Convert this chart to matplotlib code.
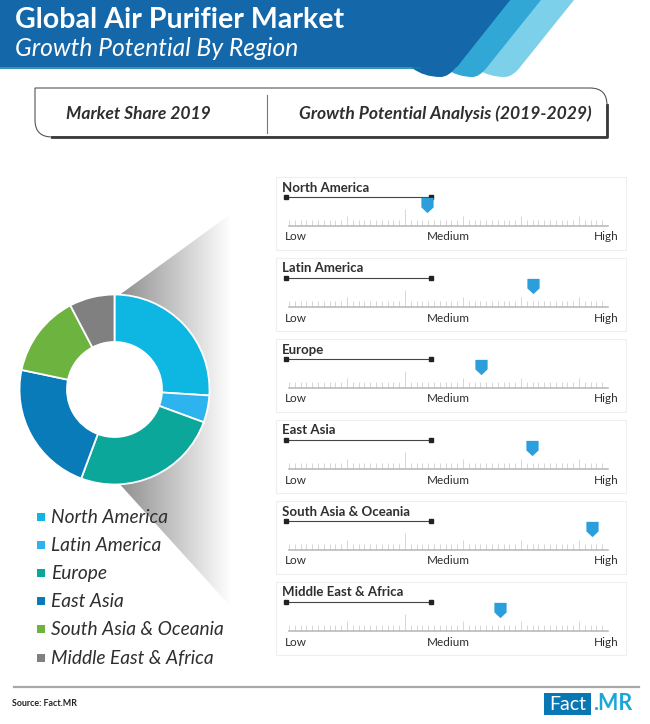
import numpy as np
import matplotlib
matplotlib.use("Agg")
import matplotlib.pyplot as plt
from matplotlib.patches import PathPatch, Rectangle, Polygon, Circle
from matplotlib.path import Path

W, H = 650, 724

regions = ["North America", "Latin America", "Europe", "East Asia",
           "South Asia & Oceania", "Middle East & Africa"]
shares = [26.0, 4.6, 25.1, 22.6, 14.0, 7.7]
growth = [43.3, 76.6, 60.2, 76.2, 95.0, 66.0]
colors = ["#0db7e1", "#2db4ee", "#0ba79a", "#0a7bb9", "#6db33f", "#808080"]
scale_labels = ["Low", "Medium", "High"]

plt.rcParams["font.family"] = ["Lato", "DejaVu Sans"]
TXT = "#2f2f2f"

fig = plt.figure(figsize=(W / 100, H / 100), dpi=100, facecolor="white")

# overlay in pixel coords, y goes down like the image
bg = fig.add_axes([0, 0, 1, 1])
bg.set_xlim(0, W)
bg.set_ylim(H, 0)
bg.axis("off")


def px_axes(x0, y0, x1, y1, z=2):
    return fig.add_axes([x0 / W, 1 - y1 / H, (x1 - x0) / W, (y1 - y0) / H], zorder=z)


def stripe(x_left, x_right, color, z):
    # slanted band with a round foot
    foot_l = x_left - 53
    foot_r = x_right - 53
    mid = (foot_l + foot_r) / 2
    verts = [(x_left, 0), (x_right, 0), (foot_r, 66), (foot_r - 8, 77), (mid, 77),
             (foot_l, 77), (foot_l - 12, 68), (foot_l - 12, 0), (x_left, 0)]
    codes = [Path.MOVETO, Path.LINETO, Path.LINETO, Path.CURVE3, Path.CURVE3,
             Path.CURVE3, Path.CURVE3, Path.LINETO, Path.CLOSEPOLY]
    bg.add_patch(PathPatch(Path(verts, codes), fc=color, ec="none", zorder=z))


# header band
stripe(541, 574, "#7dd0ea", 1)
stripe(510, 541, "#31a7d6", 2)
stripe(477, 510, "#1467a8", 3)
bg.add_patch(Polygon([(0, 0), (510, 0), (457, 67), (0, 67)], closed=True,
                     fc="#1467a8", ec="none", zorder=3))
bg.plot([0, 420], [68, 68], color="#0f7fa8", lw=1.2, zorder=3)
bg.text(15, 28, "Global Air Purifier Market", color="white", fontsize=20.6,
        fontweight="bold", va="baseline", zorder=5)
bg.text(15, 56, "Growth Potential By Region", color="white", fontsize=17.7,
        style="italic", va="baseline", zorder=5)

# sub header box
box_v = [(35, 88), (590, 88), (607, 88), (607, 105), (607, 137), (52, 137),
         (35, 137), (35, 120), (35, 88)]
box_c = [Path.MOVETO, Path.LINETO, Path.CURVE3, Path.CURVE3, Path.LINETO,
         Path.LINETO, Path.CURVE3, Path.CURVE3, Path.CLOSEPOLY]
bg.add_patch(PathPatch(Path(box_v, box_c), fc="white", ec="#555555", lw=0.8))
bg.plot([607, 607, 52], [105, 137, 137], color="#3a3a3a", lw=2)
bg.plot([267, 267], [95, 133], color="#777777", lw=0.8)
bg.text(138.5, 119, "Market Share 2019", ha="center", va="baseline", fontsize=12.6,
        fontweight="bold", style="italic", color=TXT)
bg.text(445.5, 119, "Growth Potential Analysis (2019-2029)", ha="center", va="baseline",
        fontsize=12.6, fontweight="bold", style="italic", color=TXT)

# grey fan behind the donut
fan = Polygon([(118, 296), (232, 213), (232, 608), (116, 480)], closed=True,
              fc="none", ec="none", transform=bg.transData)
bg.add_patch(fan)
grad = np.linspace(0, 1, 256).reshape(1, -1)
im = bg.imshow(grad, extent=(116, 232, H, 0), cmap="gray", vmin=-1.2, vmax=1,
               aspect="auto", zorder=0.5)
im.set_clip_path(fan)
bg.set_xlim(0, W)
bg.set_ylim(H, 0)

# donut
cx, cy, r = 114.5, 389.5, 95
ax = px_axes(cx - r, cy - r, cx + r, cy + r)
ax.pie(shares, colors=colors, startangle=90, counterclock=False, radius=1,
       wedgeprops=dict(width=0.5, edgecolor="white", linewidth=1.3))
ax.add_patch(Circle((0, 0), 0.5, fc="white", ec="white", lw=1.3, zorder=0))
ax.set_xlim(-1, 1)
ax.set_ylim(-1, 1)
ax.patch.set_alpha(0)

# legend
for i, name in enumerate(regions):
    y = 517 + i * 28.1
    bg.add_patch(Rectangle((37, y - 4), 8, 8, fc=colors[i], ec="none", zorder=3))
    bg.text(51, y + 6, name, fontsize=13.8, style="italic", va="baseline", color=TXT, zorder=3)

# gauge panels
marker_path = Path([(-0.8, 1), (0.8, 1), (0.8, -0.25), (0, -1), (-0.8, -0.25), (-0.8, 1)],
                   closed=True)
ticks = np.arange(0, 56)
for i, name in enumerate(regions):
    top = 177 + i * 81
    bg.add_patch(Rectangle((276, top), 350, 73, fc="white", ec="#efefef", lw=0.8))
    bg.text(282, top + 14.5, name, fontsize=9.5, fontweight="bold", va="baseline", color=TXT)
    bg.plot([286, 431], [top + 20, top + 20], color="#444444", lw=0.8)
    bg.plot([286, 431], [top + 20, top + 20], ls="none", marker="s", ms=2.5, color="#222222")

    g = px_axes(289, top + 29, 608, top + 49, z=3)
    g.set_xlim(0, 100)
    g.set_ylim(0, 20)
    g.axis("off")
    g.patch.set_alpha(0)
    tx = ticks * 100 / 55
    hs = np.where(ticks == 20, 17, np.where(ticks % 10 == 0, 10, 6))
    hs[0] = 6
    hs[-1] = 6
    g.vlines(tx, 0, hs, color="#d6d6d6", lw=0.7)
    g.plot([0, 100], [0, 0], color="#b5b5b5", lw=1.1, clip_on=False)
    g.plot(growth[i], 21, marker=marker_path, ms=11, color="#2b9fdb", mew=0, clip_on=False)

    bg.text(285, top + 63.5, scale_labels[0], fontsize=8.5, va="baseline", color=TXT)
    bg.text(448, top + 63.5, scale_labels[1], fontsize=8.5, va="baseline", ha="center", color=TXT)
    bg.text(619, top + 63.5, scale_labels[2], fontsize=8.5, va="baseline", ha="right", color=TXT)

# footer
bg.plot([14, 639], [687, 687], color="#a8a8a8", lw=1.6)
bg.text(12, 706, "Source: Fact.MR", fontsize=6.4, fontweight="bold", va="baseline", color="#222222")
bg.add_patch(Rectangle((544, 693), 47, 22, fc="#0a77b5", ec="none"))
bg.text(567.5, 710, "Fact", fontsize=14, color="white", ha="center", va="baseline")
bg.text(593, 710, ".MR", fontsize=15.5, fontweight="bold", color="#1aa7d8", va="baseline")

fig.savefig("out.png", dpi=100)
